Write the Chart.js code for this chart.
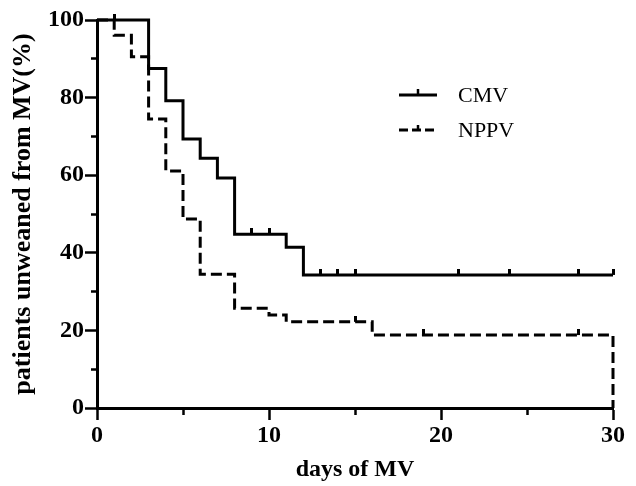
<!DOCTYPE html>
<html><head><meta charset="utf-8">
<script src="https://cdn.jsdelivr.net/npm/chart.js@4"></script>
<style>
html,body{margin:0;padding:0;background:#fff;}
#wrap{position:relative;width:636px;height:486px;}
canvas{display:block;}
.leg{position:absolute;font-family:"Liberation Serif","Times New Roman",serif;font-size:22px;color:#000;line-height:22px;white-space:nowrap;}
</style></head><body>
<div id="wrap">
<canvas id="c" width="636" height="486"></canvas>
<svg style="position:absolute;left:0;top:0" width="636" height="486">
  <line x1="399" y1="95" x2="437" y2="95" stroke="#000" stroke-width="3"/>
  <line x1="418" y1="89" x2="418" y2="95" stroke="#000" stroke-width="2.5"/>
  <line x1="399" y1="130" x2="437" y2="130" stroke="#000" stroke-width="3" stroke-dasharray="9,4"/>
  <line x1="418" y1="125" x2="418" y2="130" stroke="#000" stroke-width="2.5"/>
</svg>
<div class="leg" style="left:458px;top:84px">CMV</div>
<div class="leg" style="left:458px;top:119px">NPPV</div>
</div>
<script>
// Kaplan-Meier data
const cmvTimes = [0, 3, 4, 5, 6, 7, 8, 11, 12, 30];
const cmvSurv  = [100, 87.5, 79.2, 69.3, 64.4, 59.3, 44.8, 41.4, 34.3, 34.3];
const cmvCensor = [1, 9, 10, 13, 14, 15, 21, 24, 28, 30];

const nppvTimes = [0, 1, 2, 3, 4, 5, 6, 8, 10, 11, 16, 30];
const nppvSurv  = [100, 96.1, 90.5, 74.5, 61.1, 48.7, 34.5, 25.7, 24.0, 22.2, 18.8, 0];
const nppvCensor = [15, 19, 28];

const xTicks = [0, 10, 20, 30];
const yTicks = [0, 20, 40, 60, 80, 100];

function stepAt(times, surv, t) {
  let v = surv[0];
  for (let i = 0; i < times.length; i++) { if (times[i] < t || (times[i] === t && i < times.length - 1 && surv[i] > 0)) v = surv[i]; }
  return v;
}
function pts(times, surv) { return times.map((t, i) => ({x: t, y: surv[i]})); }
function censorPts(cens, times, surv) {
  return cens.map(t => ({x: t, y: (t === times[times.length - 1] && surv[surv.length - 1] === 0) ? surv[surv.length - 2] : stepAt(times, surv, t)}));
}

// tick mark image for censored observations
const tick = document.createElement('canvas');
tick.width = 3; tick.height = 12;
const tctx = tick.getContext('2d');
tctx.fillStyle = '#000';
tctx.fillRect(0, 0, 3, 6);

const FONT = '"Liberation Serif", "Times New Roman", serif';

new Chart(document.getElementById('c'), {
  type: 'line',
  data: {
    datasets: [
      { label: 'CMV', data: pts(cmvTimes, cmvSurv), stepped: true, borderColor: '#000', borderWidth: 3, pointRadius: 0, fill: false, clip: false },
      { label: 'NPPV', data: pts(nppvTimes, nppvSurv), stepped: true, borderColor: '#000', borderWidth: 3, borderDash: [11, 5], pointRadius: 0, fill: false, clip: false },
      { label: 'CMV censored', data: censorPts(cmvCensor, cmvTimes, cmvSurv), showLine: false, pointStyle: tick, pointRadius: 3, clip: false },
      { label: 'NPPV censored', data: censorPts(nppvCensor, nppvTimes, nppvSurv), showLine: false, pointStyle: tick, pointRadius: 3, clip: false }
    ]
  },
  options: {
    responsive: false,
    animation: false,
    devicePixelRatio: 1,
    layout: { padding: { top: 20, right: 23, left: 0, bottom: 0 } },
    plugins: { legend: { display: false }, tooltip: { enabled: false } },
    events: [],
    scales: {
      x: {
        type: 'linear', min: 0, max: 30,
        afterFit(s) { s.height = 78; },
        ticks: { stepSize: 5, autoSkip: false, maxRotation: 0, color: '#000', padding: 1,
          font: { family: FONT, size: 24, weight: 'bold' },
          callback: v => xTicks.includes(v) ? String(v) : '' },
        grid: { drawOnChartArea: false, tickLength: 12, tickWidth: 2.5, tickColor: '#000',
          tickBorderDash: c => xTicks.includes(c.tick.value) ? [] : [5, 40] },
        border: { color: '#000', width: 3 },
        title: { display: true, text: 'days of MV', color: '#000', font: { family: FONT, size: 24, weight: 'bold' }, padding: { top: 0, bottom: 2 } }
      },
      y: {
        min: 0, max: 100,
        afterFit(s) { s.width = 97; },
        ticks: { stepSize: 10, autoSkip: false, color: '#000', padding: 1,
          font: { family: FONT, size: 24, weight: 'bold' },
          callback: v => yTicks.includes(v) ? String(v) : '' },
        grid: { drawOnChartArea: false, tickLength: 12, tickWidth: 2.5, tickColor: '#000',
          tickBorderDash: c => yTicks.includes(c.tick.value) ? [] : [0, 6, 40] },
        border: { color: '#000', width: 3 },
        title: { display: true, text: 'patients unweaned from MV(%)', color: '#000', font: { family: FONT, size: 26, weight: 'bold' }, padding: { top: 8, bottom: 0 } }
      }
    }
  }
});
</script>
</body></html>
